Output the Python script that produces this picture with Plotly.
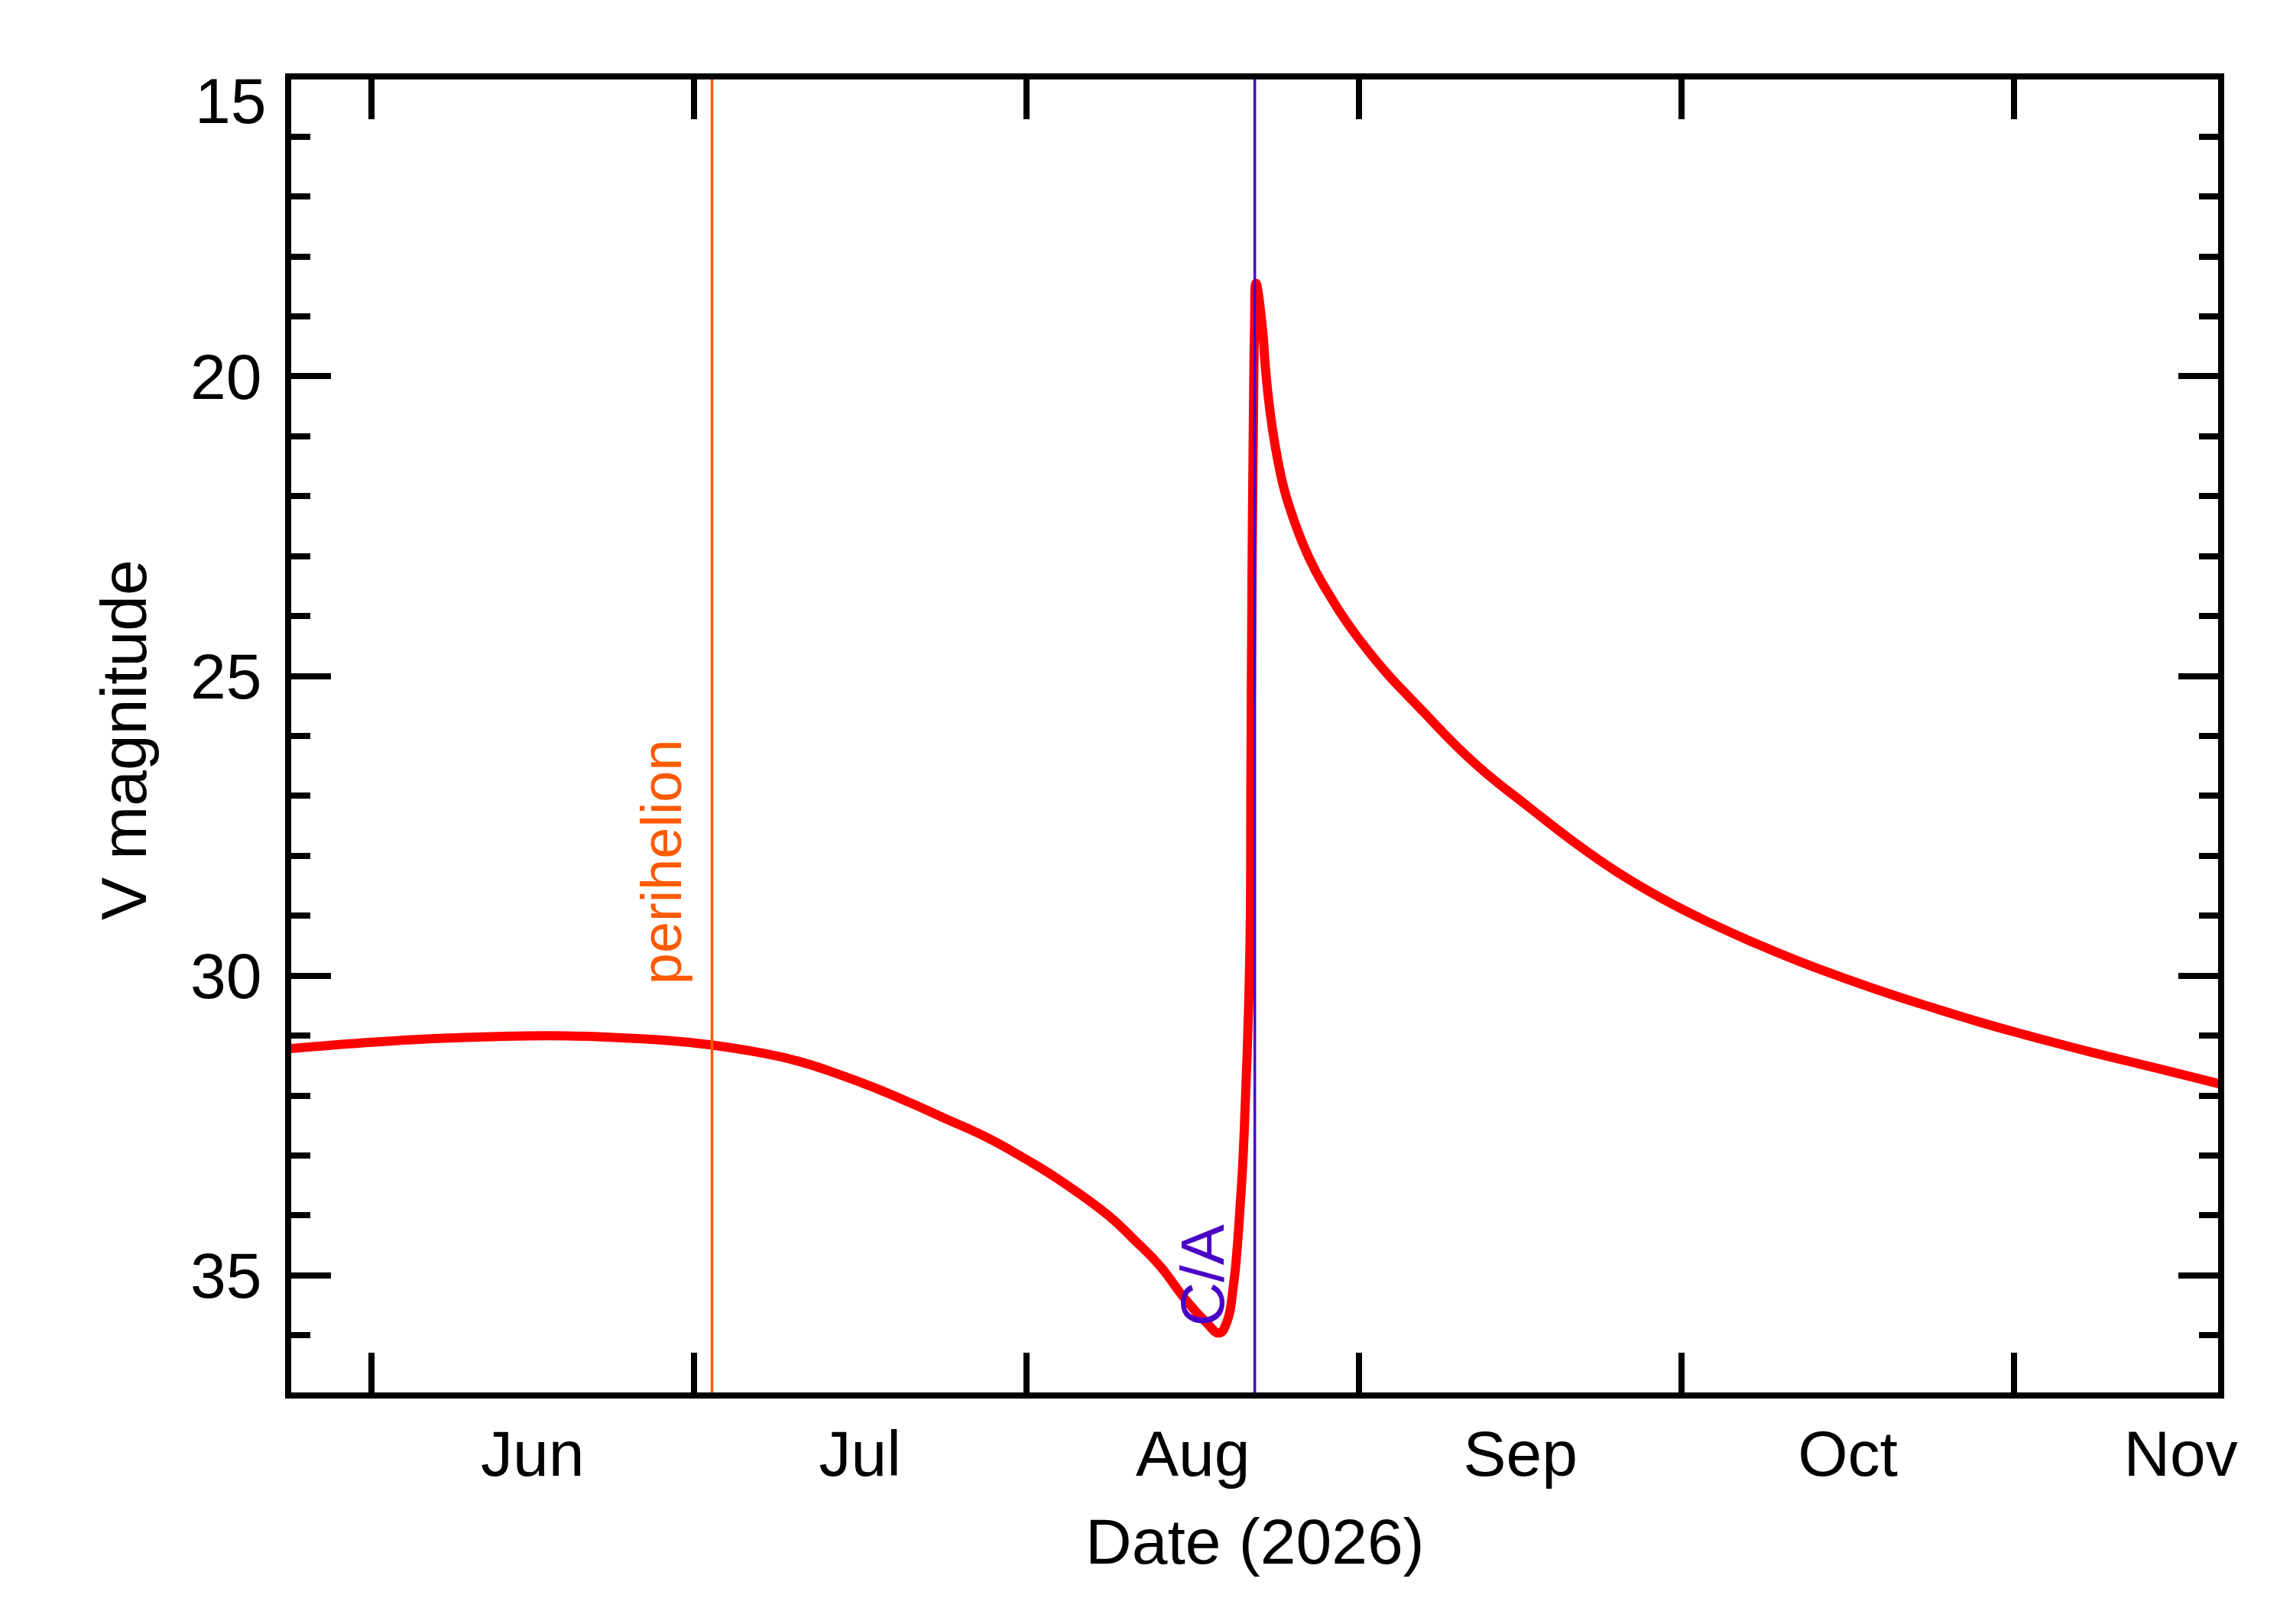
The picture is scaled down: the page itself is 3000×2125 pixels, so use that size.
import plotly.graph_objects as go

# ---- data ----
dates = [
    "2026-05-24 06:00", "2026-06-01 01:00", "2026-06-08 04:00", "2026-06-17 15:00",
    "2026-06-23 14:00", "2026-06-30 11:00", "2026-07-07 09:00",
    "2026-07-10 19:45", "2026-07-14 06:45", "2026-07-17 17:30", "2026-07-21 04:15",
    "2026-07-24 15:30", "2026-07-28 02:30", "2026-07-31 13:15", "2026-08-04 00:15",
    "2026-08-08 15:00", "2026-08-11 00:00", "2026-08-13 09:00", "2026-08-15 18:00",
    "2026-08-17 16:00", "2026-08-18 23:00", "2026-08-19 16:15", "2026-08-20 06:30",
    "2026-08-20 15:00", "2026-08-20 21:00", "2026-08-21 02:30", "2026-08-21 05:15",
    "2026-08-21 13:00", "2026-08-21 19:45", "2026-08-21 21:45", "2026-08-22 00:15",
    "2026-08-22 03:00", "2026-08-22 05:45", "2026-08-22 09:00", "2026-08-23 00:00",
    "2026-08-23 05:15", "2026-08-23 12:00", "2026-08-23 21:00", "2026-08-24 09:00",
    "2026-08-25 00:30", "2026-08-25 23:15", "2026-08-27 04:00", "2026-08-28 17:00",
    "2026-09-01 17:30", "2026-09-07 02:00", "2026-09-11 20:00",
    "2026-09-16 19:30", "2026-09-21 00:00", "2026-09-25 04:30", "2026-09-29 09:00",
    "2026-10-03 13:45", "2026-10-07 18:15", "2026-10-11 22:45", "2026-10-16 03:30",
    "2026-10-20 08:00", "2026-10-24 12:30", "2026-10-28 17:00", "2026-11-01 21:30",
    "2026-11-06 02:00", "2026-11-10 06:45", "2026-11-14 11:15", "2026-11-20 06:00",
]
v_magnitude = [
    31.22, 31.11, 31.04, 31.00,
    31.03, 31.11, 31.29,
    31.43, 31.63, 31.86, 32.12,
    32.40, 32.68, 33.02, 33.40,
    34.00, 34.40, 34.83, 35.39,
    35.77, 35.96, 35.77, 35.17,
    34.54, 33.90, 33.26, 32.84,
    31.35, 29.40, 26.50, 23.20,
    20.90, 19.20, 18.45, 19.25,
    19.78, 20.31, 20.84, 21.37,
    21.90, 22.43, 22.97, 23.50,
    24.56, 25.62, 26.47,
    27.19, 27.77, 28.29, 28.73,
    29.11, 29.45, 29.76, 30.04,
    30.30, 30.54, 30.77, 30.98,
    31.18, 31.37, 31.55, 31.81,
]

perihelion_date = "2026-07-02 17:00"
ca_date = "2026-08-22 06:15"

x_range = ["2026-05-24 12:24", "2026-11-19 23:36"]
y_range = [36.952, 15.048]
y_tickvals = [15, 20, 25, 30, 35]
y_ticktext = ["", "20", "25", "30", "35"]
top_label = "15"
top_label_y = 15.41

x_title = "Date (2026)"
y_title = "V magnitude"
perihelion_text = "perihelion"
perihelion_text_y = 28.1
ca_text = "C/A"
ca_text_y = 35.0

FONT = "Liberation Sans"
RED = "#FF0000"
ORANGE = "#FF5A00"
BLUE = "#4B00C8"

fig = go.Figure()
fig.add_trace(go.Scatter(
    x=dates, y=v_magnitude, mode="lines",
    line=dict(color=RED, width=12, shape="spline", smoothing=1.3),
    showlegend=False, hoverinfo="skip",
))

fig.add_shape(type="line", xref="x", yref="paper", x0=perihelion_date, x1=perihelion_date,
              y0=0, y1=1, line=dict(color=ORANGE, width=3.5), layer="above")
fig.add_shape(type="line", xref="x", yref="paper", x0=ca_date, x1=ca_date,
              y0=0, y1=1, line=dict(color=BLUE, width=3.5), layer="above")

fig.add_annotation(x=perihelion_date, y=perihelion_text_y, xref="x", yref="y",
                   text=perihelion_text, textangle=-90, showarrow=False,
                   xanchor="center", yanchor="middle", xshift=-66,
                   font=dict(family=FONT, size=74, color=ORANGE))
fig.add_annotation(x=ca_date, y=ca_text_y, xref="x", yref="y",
                   text=ca_text, textangle=-90, showarrow=False,
                   xanchor="center", yanchor="middle", xshift=-68,
                   font=dict(family=FONT, size=80, color=BLUE))
fig.add_annotation(x=0, y=0.5, xref="paper", yref="paper", text=y_title,
                   textangle=-90, showarrow=False, xanchor="center", yanchor="middle",
                   xshift=-219, yshift=-5, font=dict(family=FONT, size=84, color="black"))
fig.add_annotation(x=0.5, y=0, xref="paper", yref="paper", text=x_title,
                   showarrow=False, xanchor="center", yanchor="middle",
                   yshift=-195, font=dict(family=FONT, size=84, color="black"))
fig.add_annotation(x=0, y=top_label_y, xref="paper", yref="y", text=top_label,
                   showarrow=False, xanchor="right", yanchor="middle",
                   xshift=-31, font=dict(family=FONT, size=84, color="black"))

fig.update_layout(
    width=3000, height=2125,
    margin=dict(l=381, r=98, t=104, b=303),
    paper_bgcolor="white", plot_bgcolor="white",
    font=dict(family=FONT, size=84, color="black"),
    showlegend=False,
)
fig.update_xaxes(
    type="date", range=x_range,
    tick0="2026-06-01", dtick="M1", ticklabelmode="period", tickformat="%b",
    ticks="inside", ticklen=52, tickwidth=7.5, tickcolor="black",
    showline=True, linewidth=7.5, linecolor="black", mirror="ticks",
    showgrid=False, zeroline=False,
    tickfont=dict(family=FONT, size=84, color="black"),
)
fig.update_yaxes(
    range=y_range, tickmode="array", tickvals=y_tickvals, ticktext=y_ticktext,
    ticks="inside", ticklen=52, tickwidth=7.5, tickcolor="black",
    minor=dict(dtick=1, tick0=15, ticks="inside", ticklen=25, tickwidth=7.5,
               tickcolor="black", showgrid=False),
    showline=True, linewidth=7.5, linecolor="black", mirror="ticks",
    showgrid=False, zeroline=False, ticklabelstandoff=14,
    tickfont=dict(family=FONT, size=84, color="black"),
)

fig.write_html("out.html", config={"displayModeBar": False},
               post_script="document.body.style.margin='0';")
